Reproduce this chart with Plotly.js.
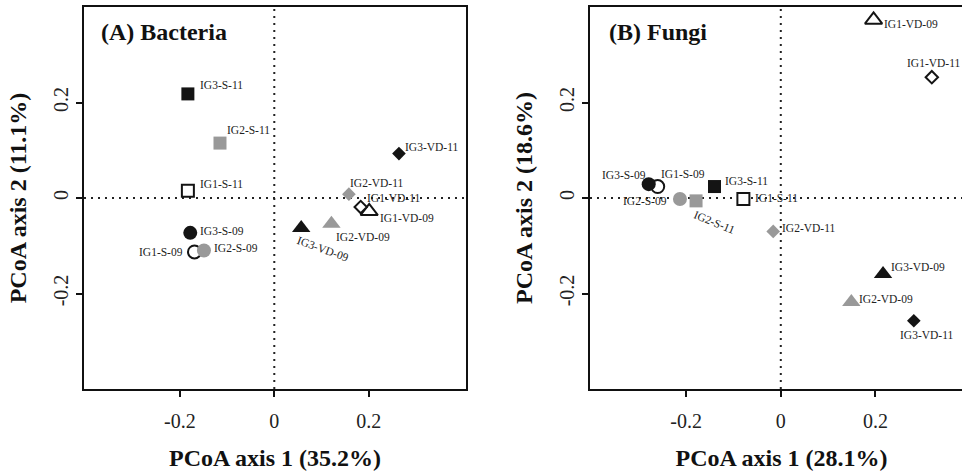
<!DOCTYPE html>
<html>
<head>
<meta charset="utf-8">
<script src="https://cdn.plot.ly/plotly-3.0.1.min.js"></script>
<style>
html,body{margin:0;padding:0;overflow:hidden;background:#fff;}
#chart{width:974px;height:473px;}
</style>
</head>
<body>
<div id="chart"></div>
<script>
// ---- data ----
var samples = ["IG1-S-09","IG2-S-09","IG3-S-09","IG1-S-11","IG2-S-11","IG3-S-11",
               "IG1-VD-09","IG2-VD-09","IG3-VD-09","IG1-VD-11","IG2-VD-11","IG3-VD-11"];
var bacteriaX = [-0.169,-0.149,-0.178,-0.183,-0.115,-0.183, 0.201, 0.121, 0.057, 0.183, 0.158, 0.264];
var bacteriaY = [-0.113,-0.110,-0.073, 0.015, 0.115, 0.218,-0.028,-0.054,-0.063,-0.019, 0.008, 0.093];
var fungiX    = [-0.260,-0.213,-0.279,-0.079,-0.179,-0.140, 0.196, 0.149, 0.216, 0.319,-0.016, 0.281];
var fungiY    = [ 0.024,-0.002, 0.029,-0.002,-0.006, 0.024, 0.373,-0.218,-0.159, 0.253,-0.070,-0.257];
var xTicks = [-0.2, 0, 0.2];
var xTickText = ["-0.2", "0", "0.2"];
var yTicks = [-0.2, 0, 0.2];
var yTickText = ["-0.2", "0", "0.2"];
var panelTitles = ["(A) Bacteria", "(B) Fungi"];
var xTitles = ["PCoA axis 1 (35.2%)", "PCoA axis 1 (28.1%)"];
var yTitles = ["PCoA axis 2 (11.1%)", "PCoA axis 2 (18.6%)"];

// ---- styles ----
var SERIF = "Liberation Serif, Times New Roman, serif";
var BLACK = "#141414", GRAY = "#999999";
function styleFor(name){
  var p = name.split("-");
  var grp = p[0], site = p[1], yr = p[2];
  var shape, size;
  if (site === "S" && yr === "09") { shape = "circle"; size = 14; }
  else if (site === "S") { shape = "square"; size = 13; }
  else if (yr === "09") { shape = "triangle-up"; size = 16; }
  else { shape = "diamond"; size = 10.5; }
  if (grp === "IG1") return {symbol: shape, size: size - 1, color: "#ffffff", line: BLACK, lw: 2};
  if (grp === "IG2") return {symbol: shape, size: size, color: GRAY, line: GRAY, lw: 0};
  return {symbol: shape, size: size, color: BLACK, line: BLACK, lw: 0};
}
// label placement (pixel offsets from point): [xanchor, xshift, yshift, angle]
var labA = {
  "IG3-S-11":["left",10,9,0], "IG2-S-11":["left",5,13,0], "IG1-S-11":["left",10,7,0],
  "IG3-S-09":["left",8,2,0], "IG1-S-09":["right",-9,0,0], "IG2-S-09":["left",8,3,0],
  "IG3-VD-11":["left",4,7,0], "IG2-VD-11":["left",-1,11,0], "IG1-VD-11":["left",4,9,0],
  "IG1-VD-09":["left",9,-7,0], "IG2-VD-09":["left",3,-13,0], "IG3-VD-09":["center",22,-21,20]
};
var labB = {
  "IG1-VD-09":["left",8,-4,0], "IG1-VD-11":["center",2,14,0], "IG3-S-09":["right",-1,9,0],
  "IG1-S-09":["left",1,13,0], "IG2-S-09":["right",-11,-2,0], "IG2-S-11":["center",18,-21,22],
  "IG3-S-11":["left",8,6,0], "IG1-S-11":["left",10,1,0], "IG2-VD-11":["left",7,3,0],
  "IG3-VD-09":["left",6,7,0], "IG2-VD-09":["left",6,3,0], "IG3-VD-11":["center",13,-14,0]
};

var st = samples.map(styleFor);
function trace(xs, ys, xa, ya){
  return {
    type: "scatter", mode: "markers", x: xs, y: ys, xaxis: xa, yaxis: ya,
    text: samples, hoverinfo: "text", showlegend: false,
    marker: {
      opacity: 1,
      symbol: st.map(function(s){return s.symbol;}),
      size: st.map(function(s){return s.size;}),
      color: st.map(function(s){return s.color;}),
      line: {color: st.map(function(s){return s.line;}), width: st.map(function(s){return s.lw;})}
    }
  };
}
var data = [trace(bacteriaX, bacteriaY, "x", "y"), trace(fungiX, fungiY, "x2", "y2")];

var annotations = [];
function addLabels(xs, ys, lab, xr, yr){
  samples.forEach(function(n, i){
    var L = lab[n];
    annotations.push({x: xs[i], y: ys[i], xref: xr, yref: yr, text: n, showarrow: false,
      xanchor: L[0], yanchor: "middle", xshift: L[1], yshift: L[2], textangle: L[3],
      font: {family: SERIF, size: 11.5, color: "#222"}});
  });
}
addLabels(bacteriaX, bacteriaY, labA, "x", "y");
addLabels(fungiX, fungiY, labB, "x2", "y2");
annotations.push({x: 0.040, y: 0.935, xref: "x domain", yref: "y domain", text: "<b>" + panelTitles[0] + "</b>",
  showarrow: false, xanchor: "left", yanchor: "middle", font: {family: SERIF, size: 24, color: "#111"}});
annotations.push({x: 0.044, y: 0.935, xref: "x2 domain", yref: "y2 domain", text: "<b>" + panelTitles[1] + "</b>",
  showarrow: false, xanchor: "left", yanchor: "middle", font: {family: SERIF, size: 24, color: "#111"}});

function zeroLines(xr, yr){
  var ln = {color: "#222", width: 2, dash: "2px,5px"};
  return [
    {type: "line", xref: xr, yref: yr + " domain", x0: 0, x1: 0, y0: 0, y1: 1, line: ln, layer: "below"},
    {type: "line", xref: xr + " domain", yref: yr, x0: 0, x1: 1, y0: 0, y1: 0, line: ln, layer: "below"}
  ];
}

function xax(dom, title){
  return {domain: dom, range: [-0.403, 0.406], tickvals: xTicks, ticktext: xTickText,
    ticks: "outside", ticklen: 6, tickwidth: 2, tickcolor: "#111",
    showline: true, mirror: true, linewidth: 2, linecolor: "#111",
    showgrid: false, zeroline: false, ticklabelstandoff: 7,
    tickfont: {family: SERIF, size: 20, color: "#222"},
    title: {text: "<b>" + title + "</b>", standoff: 18, font: {family: SERIF, size: 24, color: "#111"}}};
}
function yax(anchor, title){
  return {domain: [0, 1], range: [-0.4, 0.4], tickvals: yTicks, ticktext: yTickText, anchor: anchor,
    ticks: "outside", ticklen: 6, tickwidth: 2, tickcolor: "#111", tickangle: -90,
    showline: true, mirror: true, linewidth: 2, linecolor: "#111",
    showgrid: false, zeroline: false,
    tickfont: {family: SERIF, size: 20, color: "#222"},
    title: {text: "<b>" + title + "</b>", standoff: 17, font: {family: SERIF, size: 24, color: "#111"}}};
}

var W = 974;
var layout = {
  width: W, height: 473,
  margin: {l: 0, r: 0, t: 7, b: 84},
  paper_bgcolor: "#fff", plot_bgcolor: "#fff",
  xaxis: Object.assign(xax([84/W, 466/W], xTitles[0]), {anchor: "y"}),
  yaxis: yax("x", yTitles[0]),
  xaxis2: Object.assign(xax([590/W, 973/W], xTitles[1]), {anchor: "y2"}),
  yaxis2: yax("x2", yTitles[1]),
  shapes: zeroLines("x", "y").concat(zeroLines("x2", "y2")),
  annotations: annotations
};
Plotly.newPlot("chart", data, layout, {staticPlot: true});
</script>
</body>
</html>
